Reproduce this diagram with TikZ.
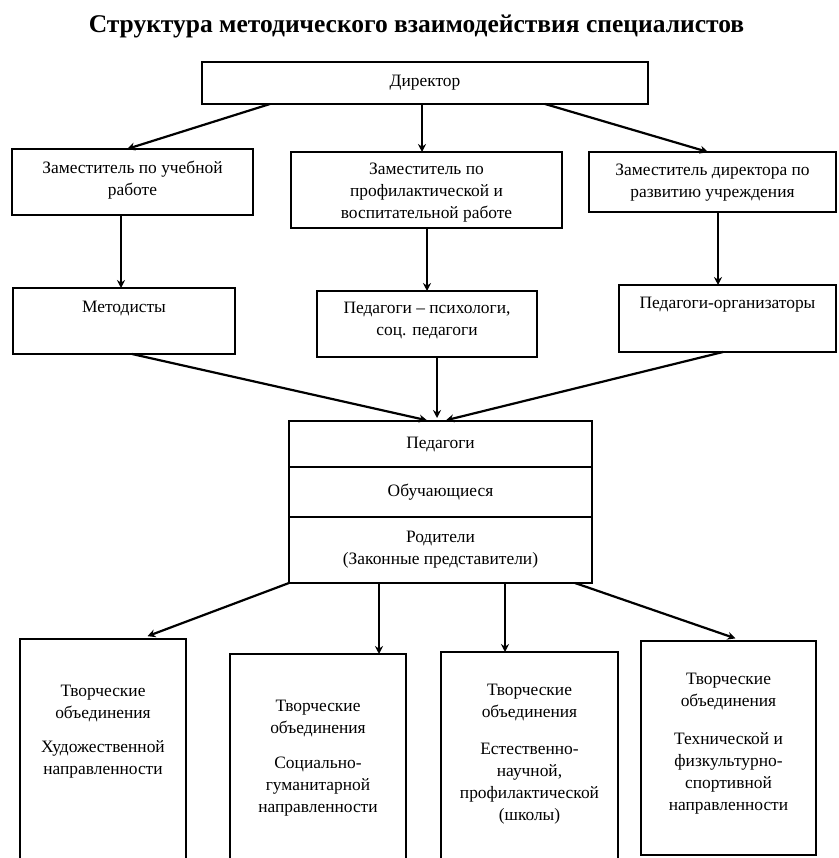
\documentclass[tikz,border=0pt]{standalone}
\usepackage{fontspec}
\setmainfont{Liberation Serif}
\usetikzlibrary{positioning, arrows.meta}

\begin{document}
\begin{tikzpicture}[x=1pt,y=-1pt,
        font=\fontsize{17.4}{22}\selectfont,
        box/.style={draw, line width=2.8pt, inner sep=0pt, outer sep=0pt, anchor=north west, align=center},
        txt/.style={align=center, anchor=north, inner sep=0pt},
        link/.style={-{Stealth[length=8pt, width=8pt]}, line width=2.2pt}]
    \useasboundingbox (0,0) rectangle (838,858);
    \clip (0,0) rectangle (838,858);

    \node[anchor=base, font=\bfseries\fontsize{25.5}{30}\selectfont] (title) at (416.5,33)
        {Структура методического взаимодействия специалистов};

    % top level
    \node[box, minimum width=446, minimum height=42] (director) at (202,62) {Директор};
    \node[box, minimum width=241, minimum height=66] (zam1) at (12,149) {};
    \node[box, minimum width=271, minimum height=76] (zam2) at (291,152) {};
    \node[box, minimum width=247, minimum height=60] (zam3) at (589,152) {};
    \node[txt] (zam1t) at ([yshift=-12]zam1.north) {Заместитель по учебной\\работе};
    \node[txt] (zam2t) at ([yshift=-11]zam2.north) {Заместитель по\\профилактической и\\воспитательной работе};
    \node[txt] (zam3t) at ([yshift=-12]zam3.north) {Заместитель директора по\\развитию учреждения};

    % specialists
    \node[box, minimum width=222, minimum height=66] (metod) at (13,288) {};
    \node[box, minimum width=220, minimum height=66] (psych) at (317,291) {};
    \node[box, minimum width=217, minimum height=67] (org) at (619,285) {};
    \node[txt] (metodt) at ([yshift=-13]metod.north) {Методисты};
    \node[txt] (psycht) at ([yshift=-11]psych.north) {Педагоги – психологи,\\соц. педагоги};
    \node[txt] (orgt) at ([yshift=-12]org.north) {Педагоги-организаторы};

    % participants
    \node[box, minimum width=303, minimum height=46] (ped) at (289,421) {Педагоги};
    \node[box, minimum width=303, minimum height=50] (obuch) at (289,467) {Обучающиеся};
    \node[box, minimum width=303, minimum height=66] (rod) at (289,517) {Родители\\(Законные представители)};

    % creative unions
    \node[box, minimum width=166, minimum height=260] (box1) at (20,639) {};
    \node[box, minimum width=176, minimum height=240] (box2) at (230,654) {};
    \node[box, minimum width=177, minimum height=240] (box3) at (441,652) {};
    \node[box, minimum width=175, minimum height=214] (box4) at (641,641) {};
    \node[txt] (box1t) at ([yshift=-46]box1.north) {Творческие\\объединения\\[12pt]Художественной\\направленности};
    \node[txt] (box2t) at ([yshift=-46]box2.north) {Творческие\\объединения\\[13pt]Социально-\\гуманитарной\\направленности};
    \node[txt] (box3t) at ([yshift=-32]box3.north) {Творческие\\объединения\\[15pt]Естественно-\\научной,\\профилактической\\(школы)};
    \node[txt] (box4t) at ([yshift=-32]box4.north) {Творческие\\объединения\\[16pt]Технической и\\физкультурно-\\спортивной\\направленности};

    \draw[link] ([xshift=68]director.south west) -- ([xshift=-5.5]zam1.north);
    \draw[link] ([xshift=-3]director.south) -- ([xshift=-3]director.south |- zam2.north);
    \draw[link] ([xshift=120]director.south) -- ([xshift=-4.5]zam3.north);

    \draw[link] ([xshift=-3]metod.north |- zam1.south) -- ([xshift=-3]metod.north);
    \draw[link] (psych.north |- zam2.south) -- (psych.north);
    \draw[link] ([xshift=-9.5]org.north |- zam3.south) -- ([xshift=-9.5]org.north);

    \draw[link, shorten >=3pt] ([xshift=8]metod.south) -- ([xshift=-10.5]ped.north);
    \draw[link, shorten >=3pt] ([xshift=10]psych.south) -- ([xshift=10]psych.south |- ped.north);
    \draw[link, shorten >=3pt] ([xshift=-4.5]org.south) -- ([xshift=2.5]ped.north);

    \draw[link, shorten >=8pt] (rod.south west) -- ([xshift=37]box1.north);
    \draw[link] ([xshift=61]box2.north |- rod.south) -- ([xshift=61]box2.north);
    \draw[link] ([xshift=-24.5]box3.north |- rod.south) -- ([xshift=-24.5]box3.north);
    \draw[link, shorten >=8pt] ([xshift=-17]rod.south east) -- ([xshift=14.5]box4.north);
\end{tikzpicture}
\end{document}
